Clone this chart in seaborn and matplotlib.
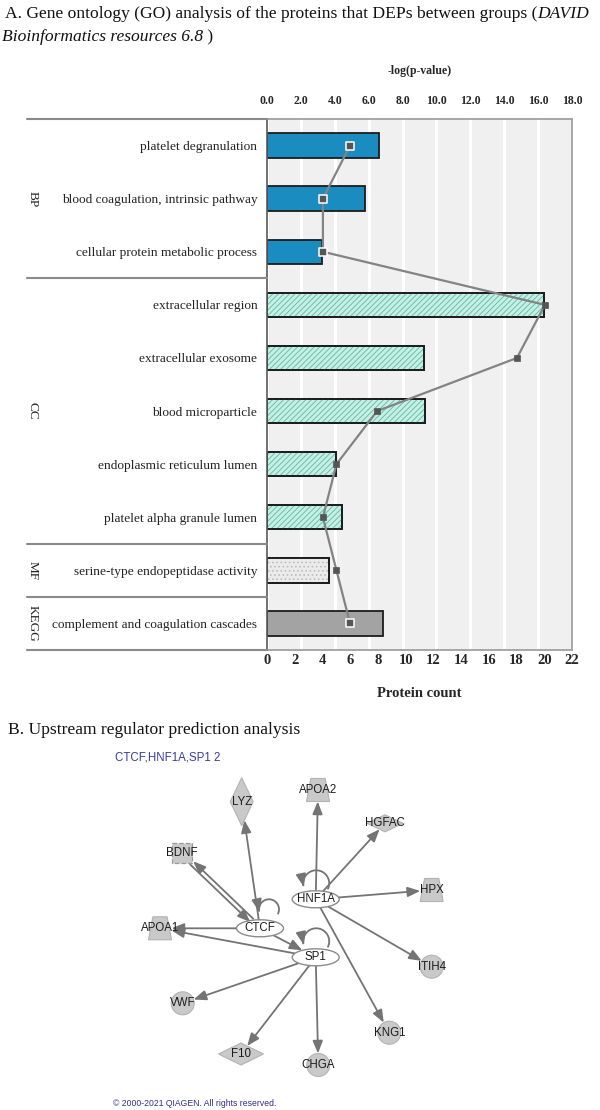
import numpy as np
import pandas as pd
import matplotlib
matplotlib.use("Agg")
import matplotlib.pyplot as plt
import seaborn as sns
from matplotlib.patches import Rectangle, Ellipse, Polygon, FancyArrowPatch
from matplotlib.path import Path
from matplotlib.lines import Line2D
from matplotlib.transforms import blended_transform_factory

# ---------------- data ----------------
categories = ["platelet degranulation", "blood coagulation, intrinsic pathway",
              "cellular protein metabolic process", "extracellular region",
              "extracellular exosome", "blood microparticle",
              "endoplasmic reticulum lumen", "platelet alpha granule lumen",
              "serine-type endopeptidase activity", "complement and coagulation cascades"]
groups = ["BP", "BP", "BP", "CC", "CC", "CC", "CC", "CC", "MF", "KEGG"]
protein_count = [8.1, 7.1, 4.0, 20.0, 11.3, 11.4, 5.0, 5.4, 4.5, 8.4]
neg_log_p = [4.9, 3.3, 3.3, 16.4, 14.75, 6.5, 4.1, 3.3, 4.1, 4.9]
count_ticks = [0, 2, 4, 6, 8, 10, 12, 14, 16, 18, 20, 22]
p_ticks = [0.0, 2.0, 4.0, 6.0, 8.0, 10.0, 12.0, 14.0, 16.0, 18.0]
group_order = ["BP", "CC", "MF", "KEGG"]

# network (IPA upstream regulators)
node_names = ["LYZ", "APOA2", "HGFAC", "BDNF", "HNF1A", "HPX", "CTCF", "SP1",
              "APOA1", "ITIH4", "VWF", "KNG1", "F10", "CHGA"]
node_shapes = ["vdiamond", "trapezoid", "hdiamond", "square", "ellipse", "trapezoid",
               "ellipse", "ellipse", "trapezoid", "circle", "circle", "circle",
               "hdiamond_big", "circle"]
edges = [("CTCF", "BDNF"), ("BDNF", "CTCF"), ("CTCF", "LYZ"), ("CTCF", "APOA1"),
         ("CTCF", "SP1"), ("HNF1A", "APOA2"), ("HNF1A", "HGFAC"), ("HNF1A", "HPX"),
         ("HNF1A", "ITIH4"), ("HNF1A", "KNG1"), ("SP1", "APOA1"), ("SP1", "VWF"),
         ("SP1", "F10"), ("SP1", "CHGA")]
self_loops = ["CTCF", "HNF1A", "SP1"]

# ---------------- layout / style ----------------
node_x = [241.7, 318, 385, 181.7, 315.7, 431.7, 260, 315.7, 160, 431.7, 182.7, 389.3, 241, 318.3]
node_y = [801.7, 790, 823.3, 853.3, 899.3, 890, 928.3, 957.3, 928.3, 966.7, 1003.3, 1032.7, 1054, 1065]
shape_size = {"vdiamond": (11.5, 24), "trapezoid": (11.5, 11.5), "hdiamond": (18, 8.5),
              "hdiamond_big": (22.5, 11), "square": (10, 10), "ellipse": (23.5, 8.5),
              "circle": (11.5, 11.5)}
loop_geom = {"CTCF": (9, -19, 10), "HNF1A": (0.5, -16, 13), "SP1": (0.5, -16, 13)}

group_face = {"BP": "#1a8cc0", "CC": "#c9efe5", "MF": "#ebebeb", "KEGG": "#a3a3a3"}
group_hatch = {"CC": ("//////", "#62c3aa"), "MF": ("....", "#bdbdbd")}
outlined_marker = [True, True, True, False, False, False, False, False, False, True]

serif = ["Liberation Serif", "DejaVu Serif"]
sans = ["Liberation Sans", "DejaVu Sans"]

sns.set_theme(style="white")
plt.rcParams["font.family"] = serif
plt.rcParams["hatch.linewidth"] = 0.7

fig = plt.figure(figsize=(6, 11.1), dpi=100)

# overlay axes in pixel coordinates
axo = fig.add_axes([0, 0, 1, 1])
axo.set_xlim(0, 600)
axo.set_ylim(1110, 0)
axo.axis("off")
axo.set_zorder(-5)

rect = [267 / 600, 1 - 650 / 1110, 305 / 600, 531 / 1110]
n_rows = len(categories)

# background with white grid on -log(p) scale
ax_bg = fig.add_axes(rect)
ax_bg.set_facecolor("#f0f0f0")
ax_bg.set_xlim(0, 18)
ax_bg.set_xticks(p_ticks)
ax_bg.grid(axis="x", color="white", lw=2.2)
ax_bg.grid(axis="y", visible=False)
ax_bg.tick_params(labelbottom=False, labelleft=False, length=0)
for s in ax_bg.spines.values():
    s.set_visible(False)

# bars
ax = fig.add_axes(rect)
ax.set_facecolor("none")
df = pd.DataFrame({"term": categories, "group": groups, "count": protein_count})
sns.barplot(data=df, x="count", y="term", hue="group", hue_order=group_order,
            palette=group_face, dodge=False, width=0.46, saturation=1,
            edgecolor="#1c1c1c", linewidth=1.3, legend=False, ax=ax, orient="h")
for grp, cont in zip(group_order, ax.containers):
    if grp in group_hatch:
        hatch, hc = group_hatch[grp]
        for p in cont:
            if p.get_width() > 0:
                ax.add_patch(Rectangle(p.get_xy(), p.get_width(), p.get_height(),
                                       fill=False, hatch=hatch, edgecolor=hc, lw=0,
                                       zorder=p.get_zorder() + 0.1))
                ax.add_patch(Rectangle(p.get_xy(), p.get_width(), p.get_height(),
                                       fill=False, edgecolor="#1c1c1c", lw=1.3,
                                       zorder=p.get_zorder() + 0.2))
ax.set_ylim(n_rows - 0.5, -0.5)
ax.set_xlim(0, 22)
ax.set_xticks(count_ticks)
ax.set_xticklabels([str(t) for t in count_ticks], fontweight="bold", fontsize=10.5)
ax.tick_params(axis="x", length=0, pad=3)
ax.tick_params(axis="y", length=0, pad=7, labelsize=9.6, labelcolor="#222222")
ax.set_ylabel("")
ax.set_xlabel("Protein count", fontweight="bold", fontsize=10.5, labelpad=14)
ax.spines["left"].set_color("#5a5a5a")
ax.spines["left"].set_linewidth(1.2)
for s in ["top", "right", "bottom"]:
    ax.spines[s].set_color("#a0a0a0")
    ax.spines[s].set_linewidth(1.3)
ax_bg.set_ylim(ax.get_ylim())

# line on top axis
ax_top = ax.twiny()
pos = np.arange(n_rows)
sns.lineplot(x=neg_log_p, y=pos, sort=False, estimator=None, color="#838383",
             lw=1.6, ax=ax_top)
om = np.array(outlined_marker)
nlp = np.array(neg_log_p)
sns.scatterplot(x=nlp[om], y=pos[om], marker="s", s=28, color="#555555",
                edgecolor="white", linewidth=1.1, ax=ax_top, zorder=5)
sns.scatterplot(x=nlp[~om], y=pos[~om], marker="s", s=16, color="#555555",
                edgecolor="#555555", linewidth=0.5, ax=ax_top, zorder=5)
ax_top.set_xlim(0, 18)
ax_top.set_xticks(p_ticks)
ax_top.set_xticklabels([f"{t:.1f}" for t in p_ticks], fontweight="bold", fontsize=8.5)
ax_top.tick_params(axis="x", length=0, pad=8.4)
ax_top.set_xlabel("-log(p-value)", fontweight="bold", fontsize=8.5, labelpad=15.5)
for s in ax_top.spines.values():
    s.set_visible(False)
ax_top.set_ylim(n_rows - 0.5, -0.5)

# group dividers and labels
trans = blended_transform_factory(fig.transFigure, ax.transData)
starts = [groups.index(g) for g in group_order]
bounds = [s - 0.5 for s in starts] + [n_rows - 0.5]
for b in bounds:
    fig.add_artist(Line2D([27 / 600, rect[0]], [b, b], transform=trans,
                          color="#8a8a8a", lw=1.5))
for g in group_order:
    idx = [i for i, gg in enumerate(groups) if gg == g]
    fig.text(33 / 600, np.mean(idx), g, transform=trans, rotation=-90,
             ha="center", va="center", fontsize=9.5, color="#222222")

# titles (mixed upright / italic runs)
renderer = fig.canvas.get_renderer()


def text_run(x, y, parts, fs):
    for s, style in parts:
        t = axo.text(x, y, s, fontsize=fs, style=style, va="baseline", ha="left",
                     color="#111111")
        bb = t.get_window_extent(renderer)
        x = axo.transData.inverted().transform((bb.x1, bb.y0))[0]


text_run(5, 18.5, [("A. Gene ontology (GO) analysis of the proteins that DEPs between groups (", "normal"),
                   ("DAVID", "italic")], 12.6)
text_run(2, 41, [("Bioinformatics resources 6.8", "italic"), (" )", "normal")], 12.6)
axo.text(8, 730, "B. Upstream regulator prediction analysis", fontsize=12.6,
         va="center", ha="left", color="#111111")
axo.text(115, 757, "CTCF,HNF1A,SP1 2", fontsize=8.3, va="center", ha="left",
         color="#3a3a9c", family=sans)
axo.text(113, 1103, "\u00a9 2000-2021 QIAGEN. All rights reserved.", fontsize=6.2,
         va="center", ha="left", color="#2e2e8e", family=sans)

# ---------------- network ----------------
nodes = {n: (x, y, s) for n, x, y, s in zip(node_names, node_x, node_y, node_shapes)}


def boundary(shape, ux, uy):
    a, b = shape_size[shape]
    if shape in ("ellipse", "circle"):
        return 1.0 / np.hypot(ux / a, uy / b)
    if "diamond" in shape:
        return 1.0 / (abs(ux) / a + abs(uy) / b)
    tx = a / abs(ux) if abs(ux) > 1e-9 else np.inf
    ty = b / abs(uy) if abs(uy) > 1e-9 else np.inf
    return min(tx, ty)


edge_col = "#747474"
astyle = "-|>,head_length=0.75,head_width=0.3"
pairs = set(edges)
for s, t in edges:
    x0, y0, sh0 = nodes[s]
    x1, y1, sh1 = nodes[t]
    d = np.array([x1 - x0, y1 - y0])
    u = d / np.hypot(*d)
    off = np.zeros(2)
    if (t, s) in pairs:
        off = np.array([-u[1], u[0]]) * 2.2
    p0 = np.array([x0, y0]) + u * boundary(sh0, *u) + off
    p1 = np.array([x1, y1]) - u * boundary(sh1, *u) + off
    axo.add_patch(FancyArrowPatch(p0, p1, arrowstyle=astyle, mutation_scale=10,
                                  color=edge_col, lw=1.3, shrinkA=0, shrinkB=0, zorder=2))

for n in self_loops:
    x, y, sh = nodes[n]
    dx, dy, r = loop_geom[n]
    th = np.radians(np.linspace(-25, 195, 40))
    verts = np.column_stack([x + dx + r * np.cos(th), y + dy - r * np.sin(th)])
    axo.add_patch(FancyArrowPatch(path=Path(verts), arrowstyle=astyle, mutation_scale=10,
                                  color=edge_col, lw=1.3, zorder=2))

for n, (x, y, sh) in nodes.items():
    a, b = shape_size[sh]
    if sh == "ellipse":
        patch = Ellipse((x, y), 2 * a, 2 * b, fc="white", ec="#8a8a8a", lw=1.0)
    elif sh == "circle":
        patch = Ellipse((x, y), 2 * a, 2 * b, fc="#c9c9c9", ec="#b3b3b3", lw=0.8)
    elif "diamond" in sh:
        patch = Polygon([(x, y - b), (x + a, y), (x, y + b), (x - a, y)],
                        closed=True, fc="#c9c9c9", ec="#b3b3b3", lw=0.8)
    elif sh == "trapezoid":
        patch = Polygon([(x - 0.62 * a, y - b), (x + 0.62 * a, y - b), (x + a, y + b),
                         (x - a, y + b)], closed=True, fc="#c9c9c9", ec="#b3b3b3", lw=0.8)
    else:
        patch = Rectangle((x - a, y - b), 2 * a, 2 * b, fc="#c9c9c9", ec="#9a9a9a",
                          lw=0.9, ls="--")
    patch.set_zorder(3)
    axo.add_patch(patch)
    axo.text(x, y, n, ha="center", va="center", fontsize=8.3, family=sans,
             color="#1c1c1c", zorder=4)

fig.savefig("out.png", dpi=100)
